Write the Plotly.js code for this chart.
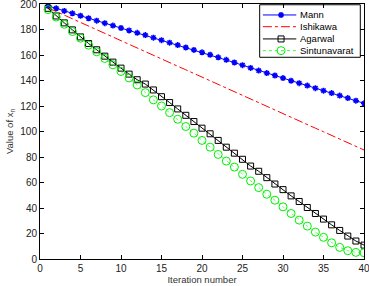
<!DOCTYPE html>
<html>
<head>
<meta charset="utf-8">
<script src="https://cdn.plot.ly/plotly-3.0.1.min.js"></script>
<style>html,body{margin:0;padding:0;background:#fff;}#chart{width:369px;height:286px;}</style>
</head>
<body>
<div id="chart"></div>
<script>
const iterations = Array.from({length: 40}, (_, i) => i + 1);
const mann = [198.5,196.6,194.6,192.7,190.8,188.8,186.9,185.0,183.1,181.2,179.3,177.4,175.6,173.6,171.6,169.7,167.8,165.9,164.0,162.1,160.2,158.2,156.2,154.1,152.0,149.9,147.8,145.8,143.9,141.9,139.8,137.9,136.0,134.0,132.0,130.1,128.2,126.2,124.2,122.1];
const ishikawa = [197.0,194.1,191.3,188.4,185.6,182.7,179.8,177.0,174.1,171.3,168.4,165.5,162.7,159.8,157.0,154.1,151.2,148.4,145.5,142.7,139.8,136.9,134.1,131.2,128.4,125.5,122.6,119.8,116.9,114.1,111.2,108.3,105.5,102.6,99.8,96.9,94.0,91.2,88.3,85.5];
const agarwal = [196.6,190.6,185.2,179.7,174.2,169.0,164.1,159.1,154.4,149.7,145.0,140.6,137.2,132.6,127.3,122.7,117.7,112.7,107.8,102.6,98.2,93.0,87.7,83.0,78.2,72.9,68.8,63.8,58.8,54.4,49.5,45.1,40.4,35.7,31.3,26.8,22.4,18.0,14.1,10.9];
const sintunavarat = [195.6,189.8,184.1,178.4,173.2,167.7,162.5,157.3,152.3,147.1,142.0,136.5,130.5,124.8,120.0,114.8,109.6,103.9,98.7,93.0,87.7,82.0,76.8,72.1,66.4,61.2,56.0,50.8,46.1,40.9,35.7,30.5,25.8,21.1,17.0,12.7,9.1,6.5,5.2,4.9];
const seriesNames = ['Mann', 'Ishikawa', 'Agarwal', 'Sintunavarat'];
const xTicks = [0,5,10,15,20,25,30,35,40];
const yTicks = [0,20,40,60,80,100,120,140,160,180,200];

const FONT = 'Liberation Sans, Arial, Helvetica, sans-serif';
const styles = [
  {line: {color: '#0000ff', width: 1},
   marker: {symbol: 'asterisk-open', size: 5, color: '#0000ff', line: {color: '#0000ff', width: 1.5}}, mode: 'lines+markers'},
  {line: {color: '#ff0000', width: 1, dash: 'dashdot'}, mode: 'lines'},
  {line: {color: '#000000', width: 1},
   marker: {symbol: 'square-open', size: 6, color: '#000000', line: {color: '#000000', width: 1}}, mode: 'lines+markers'},
  {line: {color: '#00ff00', width: 0.6, dash: 'dot'},
   marker: {symbol: 'circle-open', size: 8, color: '#00ee00', line: {color: '#00ee00', width: 1}}, mode: 'lines+markers'}
];
const seriesValues = [mann, ishikawa, agarwal, sintunavarat];

const traces = seriesValues.map((vals, i) => Object.assign({
  x: iterations, y: vals, name: seriesNames[i], showlegend: false, xaxis: 'x', yaxis: 'y'
}, styles[i]));

// Custom compact legend (positions in plot-area fractions)
const legendBox = {x0: 0.678, x1: 0.9886, y0: 0.791, y1: 0.997};
const legendRows = [0.957, 0.911, 0.863, 0.817];
const keyX0 = 0.688, keyX1 = 0.791, keyMid = 0.744, textX = 0.801;

const shapes = [{
  type: 'rect', xref: 'paper', yref: 'paper', layer: 'below',
  x0: legendBox.x0, x1: legendBox.x1, y0: legendBox.y0, y1: legendBox.y1,
  fillcolor: '#fff', line: {color: '#000', width: 1}
}];
const annotations = [];
seriesNames.forEach((name, i) => {
  shapes.push({type: 'line', xref: 'paper', yref: 'paper', layer: 'below',
    x0: keyX0, x1: keyX1, y0: legendRows[i], y1: legendRows[i],
    line: {color: styles[i].line.color, width: Math.max(styles[i].line.width, 0.8), dash: styles[i].line.dash || 'solid'}});
  annotations.push({xref: 'paper', yref: 'paper', x: textX, y: legendRows[i], xanchor: 'left', yanchor: 'middle',
    text: name, showarrow: false, borderpad: 0, xshift: -1,
    font: {family: FONT, size: 9.5, color: '#000'}});
  if (styles[i].marker) {
    traces.push({x: [keyMid], y: [legendRows[i]], xaxis: 'x2', yaxis: 'y2', mode: 'markers',
      marker: styles[i].marker, showlegend: false, hoverinfo: 'skip'});
  }
});

const axisCommon = {
  showgrid: false, zeroline: false, showline: true, linecolor: '#000', linewidth: 1,
  mirror: 'ticks', ticks: 'inside', ticklen: 4, tickcolor: '#000', tickwidth: 1,
  ticklabeloverflow: 'allow', automargin: false,
  tickfont: {family: FONT, size: 10, color: '#222'}
};

const layout = {
  width: 369, height: 286,
  margin: {l: 40, r: 5, t: 4, b: 27},
  paper_bgcolor: '#fff', plot_bgcolor: '#fff',
  showlegend: false,
  xaxis: Object.assign({}, axisCommon, {
    range: [0, 40], tickvals: xTicks, ticktext: xTicks.map(String),
    title: {text: 'Iteration number', standoff: 1, font: {family: FONT, size: 9.5, color: '#333'}}
  }),
  yaxis: Object.assign({}, axisCommon, {
    range: [0, 200], tickvals: yTicks, ticktext: yTicks.map(String),
    title: {text: 'Value of x<sub>n</sub>', standoff: 4, font: {family: FONT, size: 9.5, color: '#333'}}
  }),
  xaxis2: {overlaying: 'x', range: [0, 1], visible: false, fixedrange: true},
  yaxis2: {overlaying: 'y', range: [0, 1], visible: false, fixedrange: true},
  shapes: shapes,
  annotations: annotations
};

Plotly.newPlot('chart', traces, layout, {displayModeBar: false, staticPlot: true});
</script>
</body>
</html>
